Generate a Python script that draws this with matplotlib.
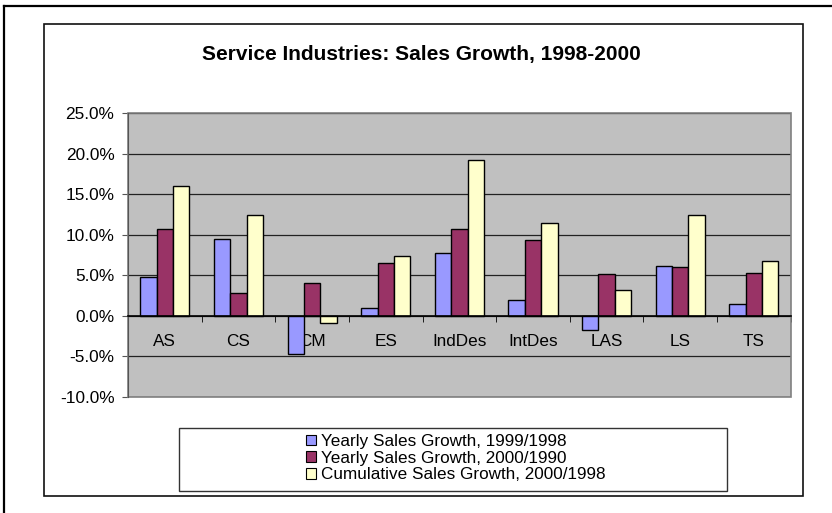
import matplotlib
matplotlib.use("Agg")
import matplotlib.pyplot as plt
import numpy as np
from matplotlib.patches import Rectangle, Patch
from matplotlib.lines import Line2D
from matplotlib.ticker import FuncFormatter, MultipleLocator

categories = ["AS", "CS", "CM", "ES", "IndDes", "IntDes", "LAS", "LS", "TS"]
yearly_99_98 = [4.75, 9.5, -4.75, 0.9, 7.7, 1.9, -1.75, 6.15, 1.4]
yearly_00_90 = [10.7, 2.8, 4.1, 6.5, 10.7, 9.3, 5.1, 6.0, 5.3]
cumulative_00_98 = [16.0, 12.5, -0.9, 7.4, 19.2, 11.45, 3.15, 12.5, 6.7]
series_names = [
    "Yearly Sales Growth, 1999/1998",
    "Yearly Sales Growth, 2000/1990",
    "Cumulative Sales Growth, 2000/1998",
]
colors = ["#9999FF", "#993366", "#FFFFCC"]

W, H = 832, 513
plt.rcParams['font.family'] = ['Liberation Sans', 'DejaVu Sans']

fig = plt.figure(figsize=(W / 100, H / 100), dpi=100)


def fx(px):
    return px / W


def fy(py):
    return 1 - py / H


# outer frame (only top and left edges show)
fig.add_artist(Line2D([fx(3.7), fx(3.7)], [fy(5.7), 0], transform=fig.transFigure,
                      color="black", lw=1.6))
fig.add_artist(Line2D([fx(3.7), 1], [fy(5.7), fy(5.7)], transform=fig.transFigure,
                      color="black", lw=1.6))
# chart area border
fig.add_artist(Rectangle((fx(43.7), fy(496)), fx(802.7) - fx(43.7), fy(23.7) - fy(496),
                         transform=fig.transFigure, fill=False, edgecolor="#111111", lw=1.2))

ax = fig.add_axes([fx(128), fy(396.7), fx(790.7) - fx(128), fy(113.3) - fy(396.7)])
ax.set_facecolor("#C0C0C0")

x = np.arange(len(categories))
bw = 1 / 4.5
for i, (vals, c) in enumerate(zip([yearly_99_98, yearly_00_90, cumulative_00_98], colors)):
    ax.bar(x + (i - 1) * bw, np.array(vals) / 100, bw, color=c, edgecolor="black",
           linewidth=1.0, zorder=3)

ax.set_xlim(-0.5, len(categories) - 0.5)
ax.set_ylim(-0.10, 0.25)
ax.yaxis.set_major_locator(MultipleLocator(0.05))
ax.yaxis.set_major_formatter(FuncFormatter(lambda v, p: f"{v * 100:.1f}%"))
ax.grid(axis="y", color="#222222", lw=0.9, zorder=1)
ax.set_axisbelow(True)

# plot area frame
ax.add_patch(Rectangle((0, 0), 1, 1, transform=ax.transAxes, fill=False,
                       edgecolor="#808080", lw=1.2, clip_on=False, zorder=2))
for s in ["top", "right"]:
    ax.spines[s].set_visible(False)
ax.spines["left"].set_color("#555555")
ax.spines["bottom"].set_position(("data", 0))
ax.spines["bottom"].set_color("black")
ax.spines["bottom"].set_linewidth(1.2)
ax.spines["bottom"].set_zorder(4)

ax.set_xticks(x)
ax.set_xticklabels(categories, fontsize=12.3)
ax.set_xticks(np.arange(-0.5, len(categories), 1), minor=True)
ax.tick_params(axis="x", which="major", length=0, pad=13.5)
ax.tick_params(axis="x", which="minor", length=4, direction="out", color="black")
ax.tick_params(axis="y", length=4.3, pad=5.5, labelsize=12.4, color="#555555")

fig.text(fx(421), fy(55), "Service Industries: Sales Growth, 1998-2000",
         ha="center", va="center", fontsize=15, fontweight="bold")

# legend
fig.add_artist(Rectangle((fx(178.7), fy(490.7)), fx(726.7) - fx(178.7), fy(428.3) - fy(490.7),
                         transform=fig.transFigure, fill=False, edgecolor="#333333", lw=1.0))
handles = [Patch(facecolor=c, edgecolor="black", lw=0.8) for c in colors]
fig.legend(handles, series_names, loc="upper left",
           bbox_to_anchor=(fx(305.5), fy(434)), frameon=False, fontsize=12.3,
           handlelength=0.6, handleheight=0.6, handletextpad=0.3,
           labelspacing=0.1, borderpad=0, borderaxespad=0)

fig.savefig("out.png", dpi=100)
